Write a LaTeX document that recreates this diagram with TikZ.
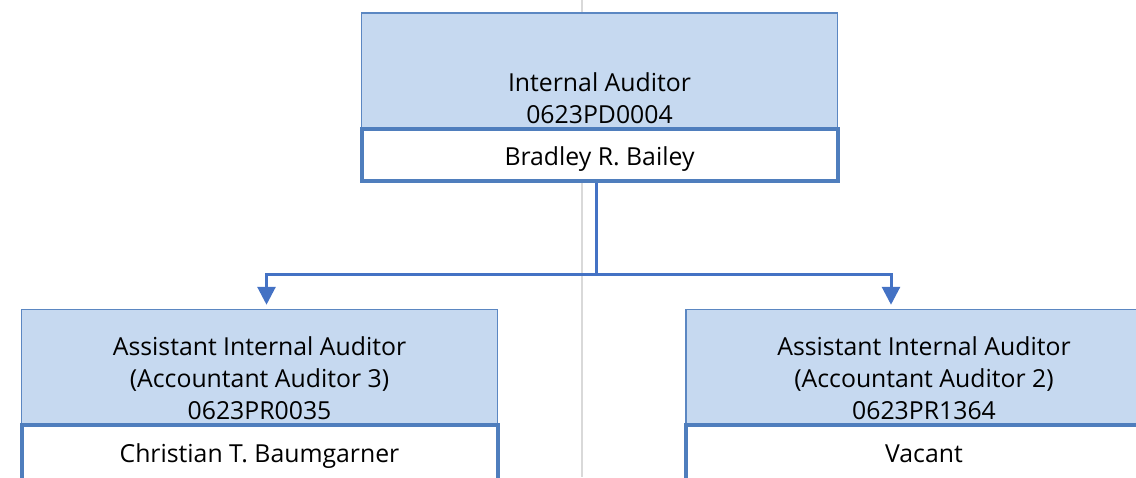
\documentclass[tikz,border=0pt]{standalone}
\usepackage{fontspec}
\setmainfont{Open Sans}
\usetikzlibrary{arrows.meta}
\definecolor{posfill}{HTML}{C6D9F0}
\definecolor{posline}{HTML}{5B87C2}
\definecolor{nameline}{HTML}{4F7EBD}
\definecolor{linkblue}{HTML}{4472C4}
\definecolor{guide}{HTML}{D9D9D9}
\begin{document}
\begin{tikzpicture}[x=0.5pt,y=-0.5pt,
    posbox/.style={rectangle,draw=posline,fill=posfill,line width=0.75pt,minimum width=238pt,minimum height=58pt,inner sep=0pt},
    whobox/.style={rectangle,draw=nameline,fill=white,line width=2pt,minimum width=238pt,minimum height=26pt,inner sep=0pt,text height=11pt,text depth=0.2pt,font=\fontsize{12.4}{16}\selectfont},
    postitle/.style={align=center,anchor=south,inner sep=0pt,yshift=3pt,font=\fontsize{12.4}{16}\selectfont},
    link/.style={draw=linkblue,line width=1.5pt},
    linktip/.style={-{Triangle[width=9pt,length=9pt]}}]
  \clip (0,0) rectangle (1136,477);
  \draw[guide,line width=0.75pt] (582,0) -- (582,477);
  % top position
  \node[posbox] (pd) at (599.5,71) {};
  \node[postitle] (pdtxt) at (pd.south) {Internal Auditor\\0623PD0004};
  \node[whobox] (pdname) at (599.5,155) {Bradley R. Bailey};
  % left position
  \node[posbox] (aia) at (259.5,367.5) {};
  \node[postitle] (aiatxt) at (aia.south) {Assistant Internal Auditor\\(Accountant Auditor 3)\\0623PR0035};
  \node[whobox,minimum height=27.5pt] (aianame) at (259.5,452) {Christian T. Baumgarner};
  % right position
  \node[posbox] (aib) at (924,367.5) {};
  \node[postitle] (aibtxt) at (aib.south) {Assistant Internal Auditor\\(Accountant Auditor 2)\\0623PR1364};
  \node[whobox,minimum height=27.5pt] (aibname) at (924,452) {Vacant};
  % reporting lines
  \coordinate (split) at ([xshift=-1.5pt,yshift=-45.5pt]pdname.south);
  \draw[link] (split |- pdname.south) -- (split);
  \draw[link,linktip] (split) -| ([xshift=3.5pt,yshift=2pt]aia.north);
  \draw[link,linktip] (split) -| ([xshift=-16.5pt,yshift=2pt]aib.north);
\end{tikzpicture}
\end{document}
